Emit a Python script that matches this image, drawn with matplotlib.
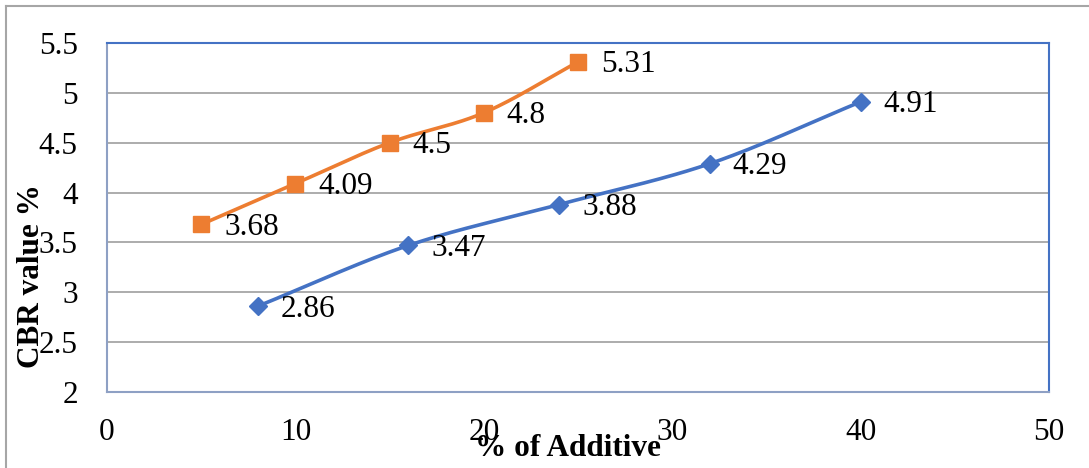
import numpy as np
import matplotlib.pyplot as plt
from matplotlib.lines import Line2D

# CBR values for the two additive series
x_blue = [8, 16, 24, 32, 40]
y_blue = [2.86, 3.47, 3.88, 4.29, 4.91]
x_orange = [5, 10, 15, 20, 25]
y_orange = [3.68, 4.09, 4.5, 4.8, 5.31]

x_ticks = [0, 10, 20, 30, 40, 50]
y_ticks = [2, 2.5, 3, 3.5, 4, 4.5, 5, 5.5]
y_ticklabels = ['2', '2.5', '3', '3.5', '4', '4.5', '5', '5.5']

BLUE = '#4472C4'
ORANGE = '#ED7D31'


def smooth(xs, ys, n=40):
    # Catmull-Rom curve through the points, like a spreadsheet "smoothed line"
    pts = np.column_stack([xs, ys]).astype(float)
    p = np.vstack([pts[0] - (pts[1] - pts[0]), pts, pts[-1] + (pts[-1] - pts[-2])])
    out = []
    for i in range(1, len(p) - 2):
        p0, p1, p2, p3 = p[i - 1], p[i], p[i + 1], p[i + 2]
        t = np.linspace(0, 1, n)[:, None]
        seg = 0.5 * ((2 * p1) + (-p0 + p2) * t + (2 * p0 - 5 * p1 + 4 * p2 - p3) * t ** 2
                     + (-p0 + 3 * p1 - 3 * p2 + p3) * t ** 3)
        out.append(seg)
    out = np.vstack(out)
    return out[:, 0], out[:, 1]


plt.rcParams['font.family'] = ['Liberation Serif', 'DejaVu Serif']

W, H = 1089, 468
fig = plt.figure(figsize=(W / 100, H / 100), dpi=100)

# chart frame (left and top edges)
fig.add_artist(Line2D([6 / W, 6 / W], [0, 1 - 6 / H], color='#A6A6A6', lw=1.5))
fig.add_artist(Line2D([6 / W, 1], [1 - 6 / H, 1 - 6 / H], color='#A6A6A6', lw=1.5))

ax = fig.add_axes([107 / W, (H - 392) / H, (1049 - 107) / W, (392 - 43) / H])

for xs, ys, col, mk, ms in [(x_blue, y_blue, BLUE, 'D', 9.5),
                            (x_orange, y_orange, ORANGE, 's', 12)]:
    sx, sy = smooth(xs, ys)
    ax.plot(sx, sy, color=col, lw=2.6, zorder=3, solid_capstyle='round')
    ax.plot(xs, ys, ls='none', marker=mk, ms=ms, color=col, zorder=4)
    for xv, yv in zip(xs, ys):
        ax.annotate(f'{yv:g}', (xv, yv), xytext=(16.5, -2), textcoords='offset points',
                    ha='left', va='center', fontsize=22.5, color='black', zorder=5)

ax.set_xlim(0, 50)
ax.set_ylim(2, 5.5)
ax.set_xticks(x_ticks)
ax.set_yticks(y_ticks)
ax.set_yticklabels(y_ticklabels)
ax.tick_params(axis='both', length=0, labelsize=22.5)
ax.tick_params(axis='y', pad=21)
ax.tick_params(axis='x', pad=19)
ax.grid(axis='y', color='#A6A6A6', lw=1.3)
ax.set_axisbelow(True)

ax.spines['top'].set_color(BLUE)
ax.spines['right'].set_color(BLUE)
ax.spines['left'].set_color('#8EA0C4')
ax.spines['bottom'].set_color('#8EA0C4')
for s in ax.spines.values():
    s.set_linewidth(1.5)

fig.text(568 / W, 1 - 448 / H, '% of Additive', ha='center', va='center',
         fontsize=22.5, fontweight='bold')
fig.text(32 / W, 1 - 276 / H, 'CBR value %', ha='center', va='center',
         fontsize=22.5, fontweight='bold', rotation=90)

fig.savefig('out.png', dpi=100)
